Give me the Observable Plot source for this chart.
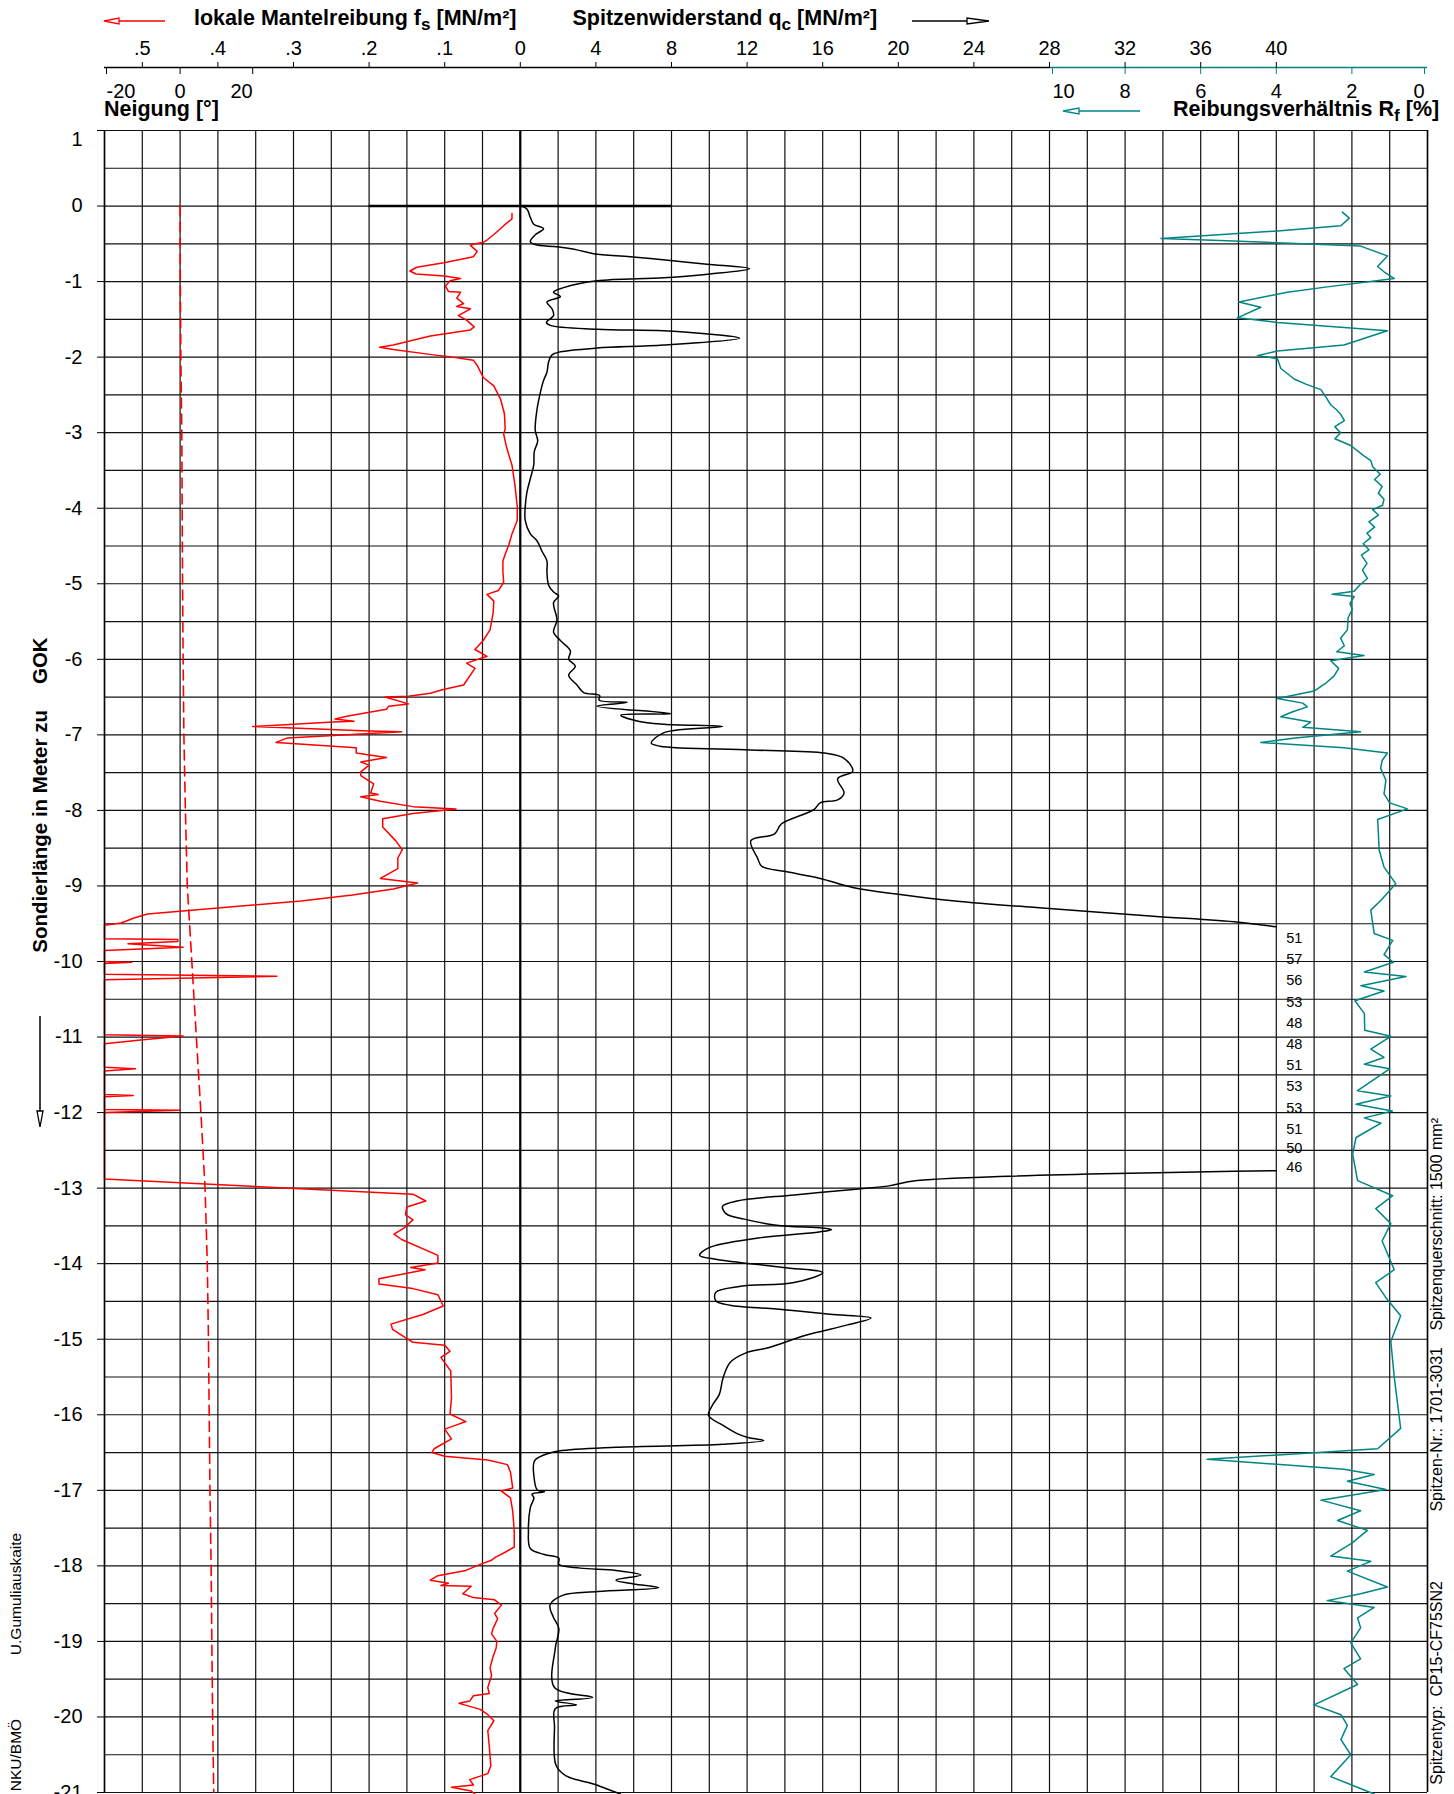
<!DOCTYPE html>
<html>
<head>
<meta charset="utf-8">
<script src="https://cdn.jsdelivr.net/npm/d3@7"></script>
<script src="https://cdn.jsdelivr.net/npm/@observablehq/plot@0.6"></script>
<style>
  body { margin: 0; background: #fff; font-family: "Liberation Sans", Arial, Helvetica, sans-serif; }
  #page { position: relative; width: 1454px; height: 1794px; overflow: hidden; background: #fff; }
  #page > svg { position: absolute; left: 0; top: 0; }
  .lbl { position: absolute; white-space: pre; line-height: 1; color: #000; }
  .title { font-weight: bold; font-size: 21.5px; }
  .sub { font-size: 0.8em; position: relative; top: 0.33em; }
  .rc { transform-origin: 0 0; transform: rotate(-90deg) translate(-50%, -50%); }
  .rt { transform-origin: 0 0; transform: rotate(-90deg) translate(-100%, -50%); }
  .deco { position: absolute; left: 0; top: 0; overflow: visible; }
</style>
</head>
<body>
<div id="page"></div>
<script>
// Cone penetration test log: sleeve friction fs, cone resistance qc,
// friction ratio Rf and inclination, plotted against depth.

// ---- tick values -------------------------------------------------------
const depthTicks = d3.range(1, -21.5, -1);
const fsTicks = [0.5, 0.4, 0.3, 0.2, 0.1, 0];
const qcTicks = [4, 8, 12, 16, 20, 24, 28, 32, 36, 40];
const rfTicks = [10, 8, 6, 4, 2, 0];
const neigungTicks = [-20, 0, 20];

// ---- profiles: [depth m, value] ---------------------------------------
// sleeve friction fs [MN/m²]; 0.55 = curve pinned at the left border
const fsProfile = [
  [-0.10, 0.011], [-0.17, 0.011], [-0.26, 0.022], [-0.36, 0.033], [-0.45, 0.044],
  [-0.48, 0.049], [-0.505, 0.062], [-0.52, 0.066], [-0.60, 0.057], [-0.67, 0.062],
  [-0.75, 0.101], [-0.81, 0.137], [-0.86, 0.146], [-0.90, 0.138], [-0.925, 0.101],
  [-0.96, 0.079], [-0.99, 0.093], [-1.06, 0.099], [-1.13, 0.095], [-1.14, 0.079],
  [-1.22, 0.084], [-1.29, 0.075], [-1.33, 0.084], [-1.36, 0.066], [-1.45, 0.082],
  [-1.51, 0.071], [-1.60, 0.061], [-1.64, 0.066], [-1.72, 0.119], [-1.84, 0.168],
  [-1.87, 0.186], [-1.90, 0.168], [-1.97, 0.115], [-1.99, 0.097], [-2.04, 0.062],
  [-2.11, 0.057], [-2.27, 0.049], [-2.38, 0.035], [-2.56, 0.026], [-2.75, 0.021],
  [-2.95, 0.020], [-3.02, 0.022], [-3.20, 0.018], [-3.43, 0.011], [-3.70, 0.007],
  [-3.98, 0.004], [-4.16, 0.004], [-4.34, 0.011], [-4.48, 0.015], [-4.61, 0.020],
  [-4.70, 0.023], [-4.84, 0.023], [-4.98, 0.022], [-5.09, 0.029], [-5.14, 0.044],
  [-5.23, 0.035], [-5.39, 0.036], [-5.61, 0.040], [-5.75, 0.049], [-5.87, 0.060],
  [-5.96, 0.044], [-6.05, 0.071], [-6.12, 0.060], [-6.34, 0.075], [-6.40, 0.102],
  [-6.45, 0.119], [-6.49, 0.148], [-6.50, 0.179], [-6.59, 0.148], [-6.62, 0.174],
  [-6.66, 0.177], [-6.75, 0.228], [-6.79, 0.245], [-6.82, 0.220], [-6.83, 0.248],
  [-6.89, 0.354], [-6.95, 0.200], [-6.96, 0.157], [-7.04, 0.308], [-7.10, 0.323],
  [-7.17, 0.217], [-7.24, 0.217], [-7.30, 0.177], [-7.36, 0.211], [-7.40, 0.200],
  [-7.49, 0.211], [-7.54, 0.211], [-7.65, 0.194], [-7.77, 0.198], [-7.79, 0.188],
  [-7.82, 0.211], [-7.88, 0.185], [-7.95, 0.142], [-7.98, 0.085], [-8.04, 0.142],
  [-8.11, 0.182], [-8.22, 0.182], [-8.40, 0.165], [-8.52, 0.156], [-8.63, 0.162],
  [-8.77, 0.162], [-8.90, 0.185], [-8.96, 0.136], [-9.04, 0.168], [-9.12, 0.222],
  [-9.20, 0.290], [-9.37, 0.493], [-9.42, 0.510], [-9.49, 0.528], [-9.52, 0.55],
  [-9.70, 0.55], [-9.71, 0.453], [-9.735, 0.453], [-9.765, 0.519], [-9.81, 0.446],
  [-9.855, 0.55], [-10.0, 0.55], [-10.01, 0.514], [-10.025, 0.55], [-10.17, 0.55],
  [-10.195, 0.322], [-10.24, 0.55], [-10.97, 0.55], [-10.985, 0.446], [-11.04, 0.502],
  [-11.09, 0.55], [-11.40, 0.55], [-11.42, 0.509], [-11.45, 0.55], [-11.76, 0.55],
  [-11.775, 0.512], [-11.79, 0.55], [-11.96, 0.55], [-11.97, 0.45], [-12.0, 0.55],
  [-12.88, 0.55], [-13.08, 0.142], [-13.17, 0.125], [-13.25, 0.150], [-13.35, 0.152],
  [-13.42, 0.142], [-13.53, 0.154], [-13.61, 0.167], [-13.68, 0.157], [-13.89, 0.109],
  [-13.99, 0.109], [-14.05, 0.145], [-14.08, 0.126], [-14.20, 0.187], [-14.27, 0.187],
  [-14.33, 0.142], [-14.41, 0.109], [-14.56, 0.102], [-14.67, 0.128], [-14.80, 0.171],
  [-14.87, 0.169], [-14.98, 0.152], [-15.04, 0.142], [-15.08, 0.100], [-15.16, 0.093],
  [-15.24, 0.105], [-15.31, 0.100], [-15.42, 0.092], [-15.78, 0.091], [-15.99, 0.093],
  [-16.09, 0.072], [-16.14, 0.086], [-16.19, 0.100], [-16.32, 0.091], [-16.45, 0.114],
  [-16.50, 0.117], [-16.55, 0.100], [-16.60, 0.043], [-16.66, 0.017], [-16.76, 0.013],
  [-16.97, 0.010], [-17.01, 0.025], [-17.10, 0.013], [-17.28, 0.010], [-17.54, 0.008],
  [-17.75, 0.008], [-17.82, 0.020], [-17.88, 0.032], [-17.93, 0.039], [-17.98, 0.053],
  [-18.06, 0.072], [-18.13, 0.109], [-18.19, 0.119], [-18.23, 0.095], [-18.26, 0.105],
  [-18.27, 0.065], [-18.37, 0.076], [-18.42, 0.062], [-18.45, 0.034], [-18.52, 0.025],
  [-18.63, 0.034], [-18.70, 0.030], [-18.83, 0.036], [-18.90, 0.038], [-19.00, 0.031],
  [-19.09, 0.032], [-19.20, 0.036], [-19.35, 0.040], [-19.45, 0.038], [-19.61, 0.043],
  [-19.69, 0.041], [-19.72, 0.062], [-19.79, 0.067], [-19.82, 0.081], [-19.90, 0.053],
  [-19.97, 0.043], [-20.05, 0.035], [-20.18, 0.043], [-20.39, 0.041], [-20.65, 0.039],
  [-20.75, 0.043], [-20.83, 0.067], [-20.90, 0.062], [-20.93, 0.091], [-20.98, 0.065],
  [-21.02, 0.060]
];

// cone resistance qc [MN/m²]; values above 40 are printed instead of drawn
const qcProfile = [
  [0.0, 0.04], [-0.04, 0.35], [-0.15, 0.53], [-0.24, 0.71], [-0.30, 1.23],
  [-0.38, 0.79], [-0.47, 0.53], [-0.51, 0.79], [-0.54, 1.94], [-0.58, 3.0],
  [-0.63, 3.88], [-0.67, 5.82], [-0.72, 7.94], [-0.77, 9.88], [-0.83, 12.13],
  [-0.90, 10.05], [-0.95, 7.58], [-0.99, 4.06], [-1.08, 2.29], [-1.14, 1.76],
  [-1.20, 2.12], [-1.27, 1.41], [-1.36, 1.68], [-1.45, 1.76], [-1.54, 1.38],
  [-1.58, 1.59], [-1.63, 4.06], [-1.65, 7.58], [-1.70, 10.23], [-1.75, 11.6],
  [-1.84, 7.58], [-1.88, 4.06], [-1.93, 2.12], [-1.97, 1.68], [-2.06, 1.5],
  [-2.20, 1.41], [-2.31, 1.23], [-2.47, 1.06], [-2.70, 0.88], [-2.97, 0.79],
  [-3.11, 0.92], [-3.25, 0.74], [-3.43, 0.71], [-3.61, 0.53], [-3.79, 0.35],
  [-3.98, 0.26], [-4.16, 0.26], [-4.34, 0.53], [-4.43, 0.88], [-4.57, 1.15],
  [-4.70, 1.41], [-4.84, 1.41], [-5.02, 1.5], [-5.11, 1.76], [-5.16, 2.03],
  [-5.25, 1.76], [-5.48, 1.94], [-5.64, 1.76], [-5.75, 2.12], [-5.89, 2.65],
  [-6.00, 2.56], [-6.09, 2.91], [-6.21, 2.56], [-6.34, 3.0], [-6.44, 3.35],
  [-6.48, 4.2], [-6.54, 4.17], [-6.57, 5.67], [-6.62, 4.06], [-6.72, 7.96],
  [-6.74, 5.32], [-6.82, 6.24], [-6.86, 7.61], [-6.89, 10.71], [-6.97, 7.61],
  [-7.11, 6.93], [-7.15, 7.39], [-7.20, 12.2], [-7.24, 16.1], [-7.31, 17.13],
  [-7.48, 17.59], [-7.58, 16.79], [-7.77, 17.13], [-7.86, 16.79], [-7.90, 15.87],
  [-7.99, 15.53], [-8.18, 13.81], [-8.31, 13.46], [-8.40, 12.2], [-8.63, 12.55],
  [-8.74, 12.78], [-8.81, 14.04], [-8.90, 15.87], [-9.02, 17.59], [-9.11, 20.0],
  [-9.20, 23.0], [-9.30, 28.0], [-9.40, 33.5], [-9.48, 38.0], [-9.54, 40.0],
  [-9.69, 51], [-9.97, 57], [-10.25, 56], [-10.54, 53], [-10.82, 48], [-11.10, 48],
  [-11.37, 51], [-11.65, 53], [-11.94, 53], [-12.22, 51], [-12.48, 50], [-12.72, 46],
  [-12.77, 40.0], [-12.90, 21.0], [-12.97, 19.5], [-13.01, 17.9], [-13.09, 14.5],
  [-13.17, 11.47], [-13.24, 10.7], [-13.34, 10.9], [-13.41, 11.85], [-13.49, 13.55],
  [-13.53, 16.0], [-13.55, 16.47], [-13.58, 15.81], [-13.66, 12.6], [-13.79, 9.96],
  [-13.89, 9.49], [-13.94, 10.34], [-14.05, 13.92], [-14.12, 16.0], [-14.25, 14.49],
  [-14.30, 11.66], [-14.38, 10.34], [-14.49, 10.34], [-14.55, 11.09], [-14.60, 13.55],
  [-14.67, 16.38], [-14.72, 18.55], [-14.81, 17.32], [-14.95, 15.06], [-15.11, 13.17],
  [-15.18, 11.94], [-15.31, 11.09], [-15.52, 10.72], [-15.73, 10.53], [-15.88, 10.15],
  [-16.01, 9.96], [-16.14, 10.72], [-16.25, 11.47], [-16.30, 12.04], [-16.34, 12.89],
  [-16.39, 10.72], [-16.43, 5.06], [-16.48, 2.04], [-16.53, 1.28], [-16.61, 0.75],
  [-16.81, 0.72], [-17.00, 0.91], [-17.02, 1.28], [-17.05, 0.62], [-17.10, 0.72],
  [-17.23, 0.53], [-17.54, 0.43], [-17.77, 0.53], [-17.85, 1.28], [-17.90, 2.04],
  [-17.98, 2.04], [-18.03, 3.17], [-18.06, 5.06], [-18.12, 6.38], [-18.19, 5.06],
  [-18.24, 6.0], [-18.29, 7.32], [-18.34, 4.11], [-18.39, 2.23], [-18.52, 1.57],
  [-18.68, 1.75], [-18.83, 2.04], [-19.09, 1.85], [-19.61, 1.81], [-19.74, 3.83],
  [-19.79, 1.85], [-19.84, 2.98], [-19.89, 1.85], [-20.13, 1.81], [-20.64, 1.89],
  [-20.78, 2.42], [-20.89, 3.92], [-20.98, 4.87], [-21.02, 5.3]
];

// friction ratio Rf [%]
const rfProfile = [
  [-0.08, 2.25], [-0.16, 2.07], [-0.26, 2.29], [-0.33, 3.97], [-0.43, 7.05],
  [-0.46, 5.3], [-0.53, 1.77], [-0.66, 1.06], [-0.80, 1.32], [-0.87, 1.15],
  [-0.96, 0.88], [-1.07, 2.65], [-1.14, 3.71], [-1.27, 4.99], [-1.34, 4.41],
  [-1.48, 5.03], [-1.54, 3.97], [-1.65, 1.06], [-1.84, 2.21], [-1.92, 3.97],
  [-1.98, 4.5], [-2.02, 3.97], [-2.15, 3.88], [-2.22, 3.7], [-2.29, 3.53],
  [-2.36, 3.2], [-2.43, 2.82], [-2.52, 2.7], [-2.63, 2.56], [-2.70, 2.4],
  [-2.76, 2.29], [-2.84, 2.2], [-2.92, 2.45], [-3.0, 2.3], [-3.08, 2.45],
  [-3.17, 2.03], [-3.30, 1.7], [-3.37, 1.5], [-3.45, 1.45], [-3.55, 1.25],
  [-3.62, 1.4], [-3.71, 1.2], [-3.80, 1.3], [-3.88, 1.15], [-3.96, 1.19],
  [-4.02, 1.45], [-4.09, 1.3], [-4.18, 1.55], [-4.25, 1.4], [-4.33, 1.6],
  [-4.39, 1.5], [-4.47, 1.7], [-4.55, 1.55], [-4.62, 1.75], [-4.73, 1.6],
  [-4.82, 1.72], [-4.93, 1.59], [-5.02, 1.8], [-5.10, 1.94], [-5.14, 2.52],
  [-5.17, 1.94], [-5.26, 2.05], [-5.34, 1.99], [-5.45, 2.1], [-5.61, 2.12],
  [-5.72, 2.3], [-5.82, 2.2], [-5.90, 2.4], [-5.95, 1.68], [-6.02, 2.56],
  [-6.12, 2.35], [-6.22, 2.47], [-6.32, 2.7], [-6.42, 3.0], [-6.52, 3.97],
  [-6.58, 3.3], [-6.63, 3.18], [-6.70, 3.6], [-6.76, 3.88], [-6.83, 3.09],
  [-6.90, 3.3], [-6.96, 1.77], [-7.04, 3.5], [-7.10, 4.41], [-7.17, 2.21],
  [-7.24, 1.06], [-7.34, 1.2], [-7.44, 1.24], [-7.60, 1.1], [-7.78, 1.15],
  [-7.90, 1.0], [-7.98, 0.53], [-8.12, 1.32], [-8.30, 1.3], [-8.52, 1.28],
  [-8.75, 1.15], [-8.97, 0.84], [-9.19, 1.23], [-9.32, 1.5], [-9.63, 1.41],
  [-9.72, 0.92], [-9.91, 1.15], [-10.01, 0.9], [-10.14, 1.67], [-10.20, 0.57],
  [-10.32, 1.76], [-10.39, 1.15], [-10.52, 1.92], [-10.69, 1.67], [-10.91, 1.66],
  [-10.99, 0.97], [-11.16, 1.5], [-11.27, 1.15], [-11.36, 1.67], [-11.42, 1.0],
  [-11.71, 1.85], [-11.78, 0.97], [-11.89, 1.89], [-11.98, 0.93], [-12.07, 1.67],
  [-12.14, 1.23], [-12.33, 1.89], [-12.55, 1.98], [-12.90, 1.85], [-13.10, 0.92],
  [-13.27, 1.37], [-13.47, 0.97], [-13.70, 1.2], [-14.08, 0.88], [-14.25, 1.37],
  [-14.45, 1.1], [-14.69, 0.71], [-15.03, 0.97], [-15.50, 0.88], [-16.18, 0.71],
  [-16.45, 1.32], [-16.59, 5.83], [-16.72, 2.21], [-16.79, 1.41], [-16.88, 2.12],
  [-16.99, 1.1], [-17.13, 2.82], [-17.27, 1.77], [-17.40, 2.38], [-17.53, 1.59],
  [-17.70, 2.0], [-17.87, 2.56], [-17.94, 1.5], [-18.07, 2.12], [-18.28, 1.06],
  [-18.37, 1.77], [-18.46, 2.65], [-18.55, 1.41], [-18.69, 1.85], [-18.82, 1.77],
  [-19.02, 2.03], [-19.23, 1.77], [-19.36, 2.21], [-19.57, 1.85], [-19.84, 3.0],
  [-19.97, 2.29], [-20.11, 2.12], [-20.30, 2.29], [-20.50, 2.03], [-20.79, 2.56],
  [-21.02, 1.41]
];

// inclination [°]
const neigungProfile = [
  [0, 0], [-1, 0.05], [-2, 0.2], [-3, 0.45], [-4, 0.55], [-5, 0.65], [-6, 0.8],
  [-7, 1.0], [-8, 1.4], [-9, 1.9], [-10, 3.1], [-11, 4.3], [-12, 5.5], [-13, 6.6],
  [-14, 7.2], [-15, 7.5], [-16, 7.7], [-17, 7.9], [-18, 8.2], [-19, 8.4],
  [-20, 8.6], [-21, 8.9]
];

// zero reading marker at the start depth, spanning fs 0.2 … qc 8
const zeroMarker = {depth: 0, fs: 0.2, qc: 8};

// ---- shared horizontal scale (expressed in qc units) -------------------
const QC_MIN = -22, QC_MAX = 48;
const QC_CLIP = 40, FS_CLIP = 0.55;
const fsX = v => -40 * Math.min(v, FS_CLIP); // 0.1 MN/m² fs ≙ 4 MN/m² qc, growing leftwards
const rfX = v => QC_MAX - 2 * v;              // Rf 0 % on the right border, growing leftwards
const nX = v => -18 + v / 5;                  // inclination 0° at qc −18, 20° per 4 units
const qcX = v => (v > QC_CLIP ? NaN : v);

// vertical layout: depth 1 … −21 m, scale header line above the grid
const Y_RANGE = [130, 1792];
const MARGIN_TOP = 67;
const Y_HEADER = 1 + (Y_RANGE[0] - MARGIN_TOP) / ((Y_RANGE[1] - Y_RANGE[0]) / 22);

const red = "#ff0000", teal = "#008585", ink = "#111";
const fmtFs = v => (v === 0 ? "0" : String(v).replace(/^0/, ""));
const labelMap = (ticks, toX, fmt) => new Map(ticks.map(t => [toX(t), fmt(t)]));
const fsLabels = labelMap(fsTicks, fsX, fmtFs);
const rfLabels = labelMap(rfTicks, rfX, String);
const nLabels = labelMap(neigungTicks, nX, String);

// axis below the header line (ticks pointing down, labels underneath)
const lowerAxis = (ticks, labels, extra) => Plot.axisX({
  anchor: "top", ticks, tickFormat: x => labels.get(x), tickSize: -6, tickPadding: -24,
  fontSize: 20, label: null, ...extra
});

const chart = Plot.plot({
  width: 1454,
  height: 1794,
  marginTop: MARGIN_TOP,
  marginBottom: 2,
  marginLeft: 104,
  marginRight: 27,
  x: {domain: [QC_MIN, QC_MAX]},
  y: {domain: [1, -21], range: Y_RANGE},
  style: {fontFamily: "'Liberation Sans', Arial, Helvetica, sans-serif", fontSize: "20px", color: "black", background: "white"},
  marks: [
    // grid: 0.5 m rows, 2 MN/m² columns
    Plot.ruleY(d3.range(1, -21.01, -0.5), {x1: () => QC_MIN, x2: () => QC_MAX, stroke: ink, strokeWidth: 1.2}),
    Plot.ruleX(d3.range(QC_MIN, QC_MAX + 0.01, 2), {y1: () => 1, y2: () => -21, stroke: ink, strokeWidth: 1.2}),
    Plot.ruleX([0], {y1: () => 1, y2: () => -21, stroke: "#000", strokeWidth: 2.2}),

    // header scale line: fs / qc part black, Rf part teal
    Plot.ruleY([Y_HEADER], {x1: () => QC_MIN, x2: () => rfX(10), stroke: "#000", strokeWidth: 1.3}),
    Plot.ruleY([Y_HEADER], {x1: () => rfX(10), x2: () => QC_MAX, stroke: teal, strokeWidth: 1.3}),

    // depth axis (the top label sits just inside the grid)
    Plot.axisY({ticks: depthTicks, tickFormat: d => (d === 1 ? "" : String(d)), tickSize: 7, tickPadding: 15, fontSize: 20, label: null}),
    Plot.axisY({ticks: [1], tickFormat: String, tickSize: 0, tickPadding: 22, dy: 9, fontSize: 20, label: null}),

    // fs and qc tick labels above the header line
    Plot.axisX({anchor: "top", ticks: fsTicks.map(fsX), tickFormat: x => fsLabels.get(x), tickSize: 6, tickPadding: 7, fontSize: 20, label: null}),
    Plot.axisX({anchor: "top", ticks: qcTicks, tickFormat: String, tickSize: 6, tickPadding: 7, fontSize: 20, label: null}),

    // inclination and Rf tick labels below the header line
    lowerAxis([nX(-20)], nLabels, {textAnchor: "start", dx: 2}),
    lowerAxis([nX(0)], nLabels, {}),
    lowerAxis([nX(20)], nLabels, {textAnchor: "end", dx: -3}),
    lowerAxis([rfX(10)], rfLabels, {stroke: teal, textAnchor: "start", dx: 3}),
    lowerAxis(rfTicks.slice(1, -1).map(rfX), rfLabels, {stroke: teal}),
    lowerAxis([rfX(0)], rfLabels, {stroke: teal, textAnchor: "end", dx: -3}),

    // zero reading marker
    Plot.ruleY([zeroMarker], {y: "depth", x1: d => fsX(d.fs), x2: d => d.qc, stroke: "#000", strokeWidth: 2.4}),

    // curves
    Plot.line(neigungProfile, {x: d => nX(d[1]), y: d => d[0], stroke: red, strokeWidth: 1.6, strokeDasharray: "10,6"}),
    Plot.line(fsProfile, {x: d => fsX(d[1]), y: d => d[0], stroke: red, strokeWidth: 1.5}),
    Plot.line(qcProfile, {x: d => qcX(d[1]), y: d => d[0], stroke: "#000", strokeWidth: 1.5, curve: "catmull-rom"}),
    Plot.line(rfProfile, {x: d => rfX(d[1]), y: d => d[0], stroke: teal, strokeWidth: 1.5}),

    // left and right borders on top of the clipped curves
    Plot.ruleX([QC_MIN, QC_MAX], {y1: () => 1, y2: () => -21, stroke: "#000", strokeWidth: 1.5}),

    // qc values beyond the scale
    Plot.text(qcProfile.filter(d => d[1] > QC_CLIP), {
      x: () => QC_CLIP, y: d => d[0], text: d => String(d[1]),
      textAnchor: "start", dx: 10, fontSize: 14.5, fill: "#000"
    })
  ]
});

const page = document.getElementById("page");
page.appendChild(chart);

// ---- header titles and side notes -------------------------------------
function label(html, left, top, cls, extraStyle = "") {
  const d = document.createElement("div");
  d.className = "lbl " + cls;
  d.style.cssText = `left:${left}px;top:${top}px;${extraStyle}`;
  d.innerHTML = html;
  page.appendChild(d);
  return d;
}
label('lokale Mantelreibung f<span class="sub">s</span> [MN/m²]', 194, 7.5, "title");
label('Spitzenwiderstand q<span class="sub">c</span> [MN/m²]', 572.5, 7.5, "title");
label('Reibungsverhältnis R<span class="sub">f</span> [%]', 1173, 98.5, "title");
label('Neigung [°]', 104, 98.5, "title");

label('Sondierlänge in Meter zu<span style="display:inline-block;width:26px"></span>GOK', 40, 795, "rc", "font-weight:bold;font-size:20.5px;");
label('U.Gumuliauskaite', 16, 1594, "rc", "font-size:15.5px;");
label('NKU/BMÖ', 16, 1755, "rc", "font-size:15.5px;");
label('Spitzenquerschnitt: 1500 mm²', 1437, 1118, "rt", "font-size:16px;");
label('Spitzen-Nr.: 1701-3031', 1437, 1347, "rt", "font-size:16px;");
label('Spitzentyp:  CP15-CF75SN2', 1437, 1581, "rt", "font-size:16px;");

// ---- arrows showing the direction of increasing values ------------------
const ns = "http://www.w3.org/2000/svg";
const deco = document.createElementNS(ns, "svg");
deco.setAttribute("class", "deco");
deco.setAttribute("width", 1454);
deco.setAttribute("height", 1794);
page.appendChild(deco);
function arrow(x1, y1, x2, y2, color, headLen, headHalf) {
  const g = document.createElementNS(ns, "g");
  const ang = Math.atan2(y2 - y1, x2 - x1);
  const bx = x2 - headLen * Math.cos(ang), by = y2 - headLen * Math.sin(ang);
  const px = -Math.sin(ang) * headHalf, py = Math.cos(ang) * headHalf;
  const line = document.createElementNS(ns, "line");
  line.setAttribute("x1", x1); line.setAttribute("y1", y1);
  line.setAttribute("x2", bx); line.setAttribute("y2", by);
  line.setAttribute("stroke", color); line.setAttribute("stroke-width", 1.5);
  const head = document.createElementNS(ns, "path");
  head.setAttribute("d", `M${x2},${y2}L${bx + px},${by + py}L${bx - px},${by - py}Z`);
  head.setAttribute("fill", "white"); head.setAttribute("stroke", color); head.setAttribute("stroke-width", 1.3);
  g.appendChild(line); g.appendChild(head);
  deco.appendChild(g);
}
arrow(165, 21, 104, 21, red, 15, 3);
arrow(912, 21, 989, 21, "#000", 22, 3);
arrow(1140, 111, 1063, 111, teal, 16, 3);
arrow(40, 1016, 40, 1127, "#000", 16, 3);
</script>
</body>
</html>
